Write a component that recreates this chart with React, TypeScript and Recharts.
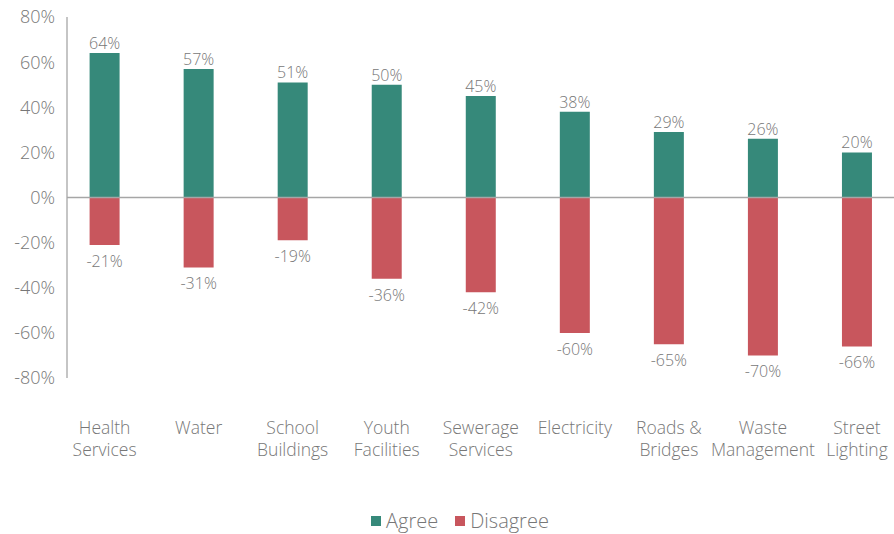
import React from "react";
import { BarChart, Bar, XAxis, YAxis, ReferenceLine, LabelList } from "recharts";

// Survey results per municipal service
const services = [
  ["Health", "Services"],
  ["Water"],
  ["School", "Buildings"],
  ["Youth", "Facilities"],
  ["Sewerage", "Services"],
  ["Electricity"],
  ["Roads &", "Bridges"],
  ["Waste", "Management"],
  ["Street", "Lighting"],
];
const agree = [64, 57, 51, 50, 45, 38, 29, 26, 20];
const disagree = [-21, -31, -19, -36, -42, -60, -65, -70, -66];
const yTicks = [-80, -60, -40, -20, 0, 20, 40, 60, 80];

const GREEN = "#36897A";
const RED = "#C8565D";
const TEXT = "#777777";
const FONT = "'Open Sans', sans-serif";

const data = services.map((lines, i) => ({
  idx: i,
  agree: agree[i],
  disagree: disagree[i],
}));

const CategoryTick = (props: any) => {
  const { x, y, payload } = props;
  const lines = services[payload.value] || [];
  return (
    <text x={x} y={y} textAnchor="middle" fill={TEXT} fontSize={17.5} fontFamily={FONT} fontWeight={300}>
      {lines.map((l, k) => (
        <tspan key={k} x={x} dy={k === 0 ? 48 : 22}>
          {l}
        </tspan>
      ))}
    </text>
  );
};

const makeLabel = (below: boolean) => (props: any) => {
  const { x, y, width, height, value } = props;
  const top = Math.min(y, y + height);
  const bottom = Math.max(y, y + height);
  const cx = x + width / 2;
  return (
    <text
      x={cx}
      y={below ? bottom + 22 : top - 4}
      textAnchor="middle"
      fill={TEXT}
      fontSize={16}
      fontFamily={FONT}
      fontWeight={300}
    >
      {`${value}%`}
    </text>
  );
};

export default function App() {
  return (
    <div style={{ position: "absolute", left: 0, top: 0, width: 894, height: 534, overflow: "hidden", background: "#fff" }}>
      <BarChart
        width={920}
        height={534}
        data={data}
        stackOffset="sign"
        margin={{ top: 17, right: 16, left: 0, bottom: 156 - 100 }}
      >
        <XAxis
          type="number"
          dataKey="idx"
          domain={[-0.4, 8.5]}
          ticks={[0, 1, 2, 3, 4, 5, 6, 7, 8]}
          axisLine={false}
          tickLine={false}
          tick={<CategoryTick />}
          height={100}
          interval={0}
        />
        <YAxis
          domain={[-80, 80]}
          ticks={yTicks}
          tickFormatter={(v: number) => `${v}%`}
          width={67}
          axisLine={{ stroke: "#a6a6a6", strokeWidth: 1.3 }}
          tickLine={false}
          tickMargin={6}
          tick={{ fill: TEXT, fontSize: 18, fontFamily: FONT, fontWeight: 300 }}
        />
        <ReferenceLine y={0} stroke="#a6a6a6" strokeWidth={1.3} />
        <Bar dataKey="agree" stackId="s" fill={GREEN} barSize={30} isAnimationActive={false}>
          <LabelList dataKey="agree" content={makeLabel(false)} />
        </Bar>
        <Bar dataKey="disagree" stackId="s" fill={RED} barSize={30} isAnimationActive={false}>
          <LabelList dataKey="disagree" content={makeLabel(true)} />
        </Bar>
      </BarChart>
      <div
        style={{
          position: "absolute",
          top: 507,
          left: 371,
          display: "flex",
          alignItems: "center",
          fontFamily: FONT,
          fontWeight: 300,
          fontSize: 20,
          color: TEXT,
          whiteSpace: "nowrap",
        }}
      >
        <span style={{ display: "inline-block", width: 10, height: 10, background: GREEN, marginRight: 5 }} />
        <span style={{ marginRight: 17 }}>Agree</span>
        <span style={{ display: "inline-block", width: 10, height: 10, background: RED, marginRight: 5 }} />
        <span>Disagree</span>
      </div>
    </div>
  );
}
